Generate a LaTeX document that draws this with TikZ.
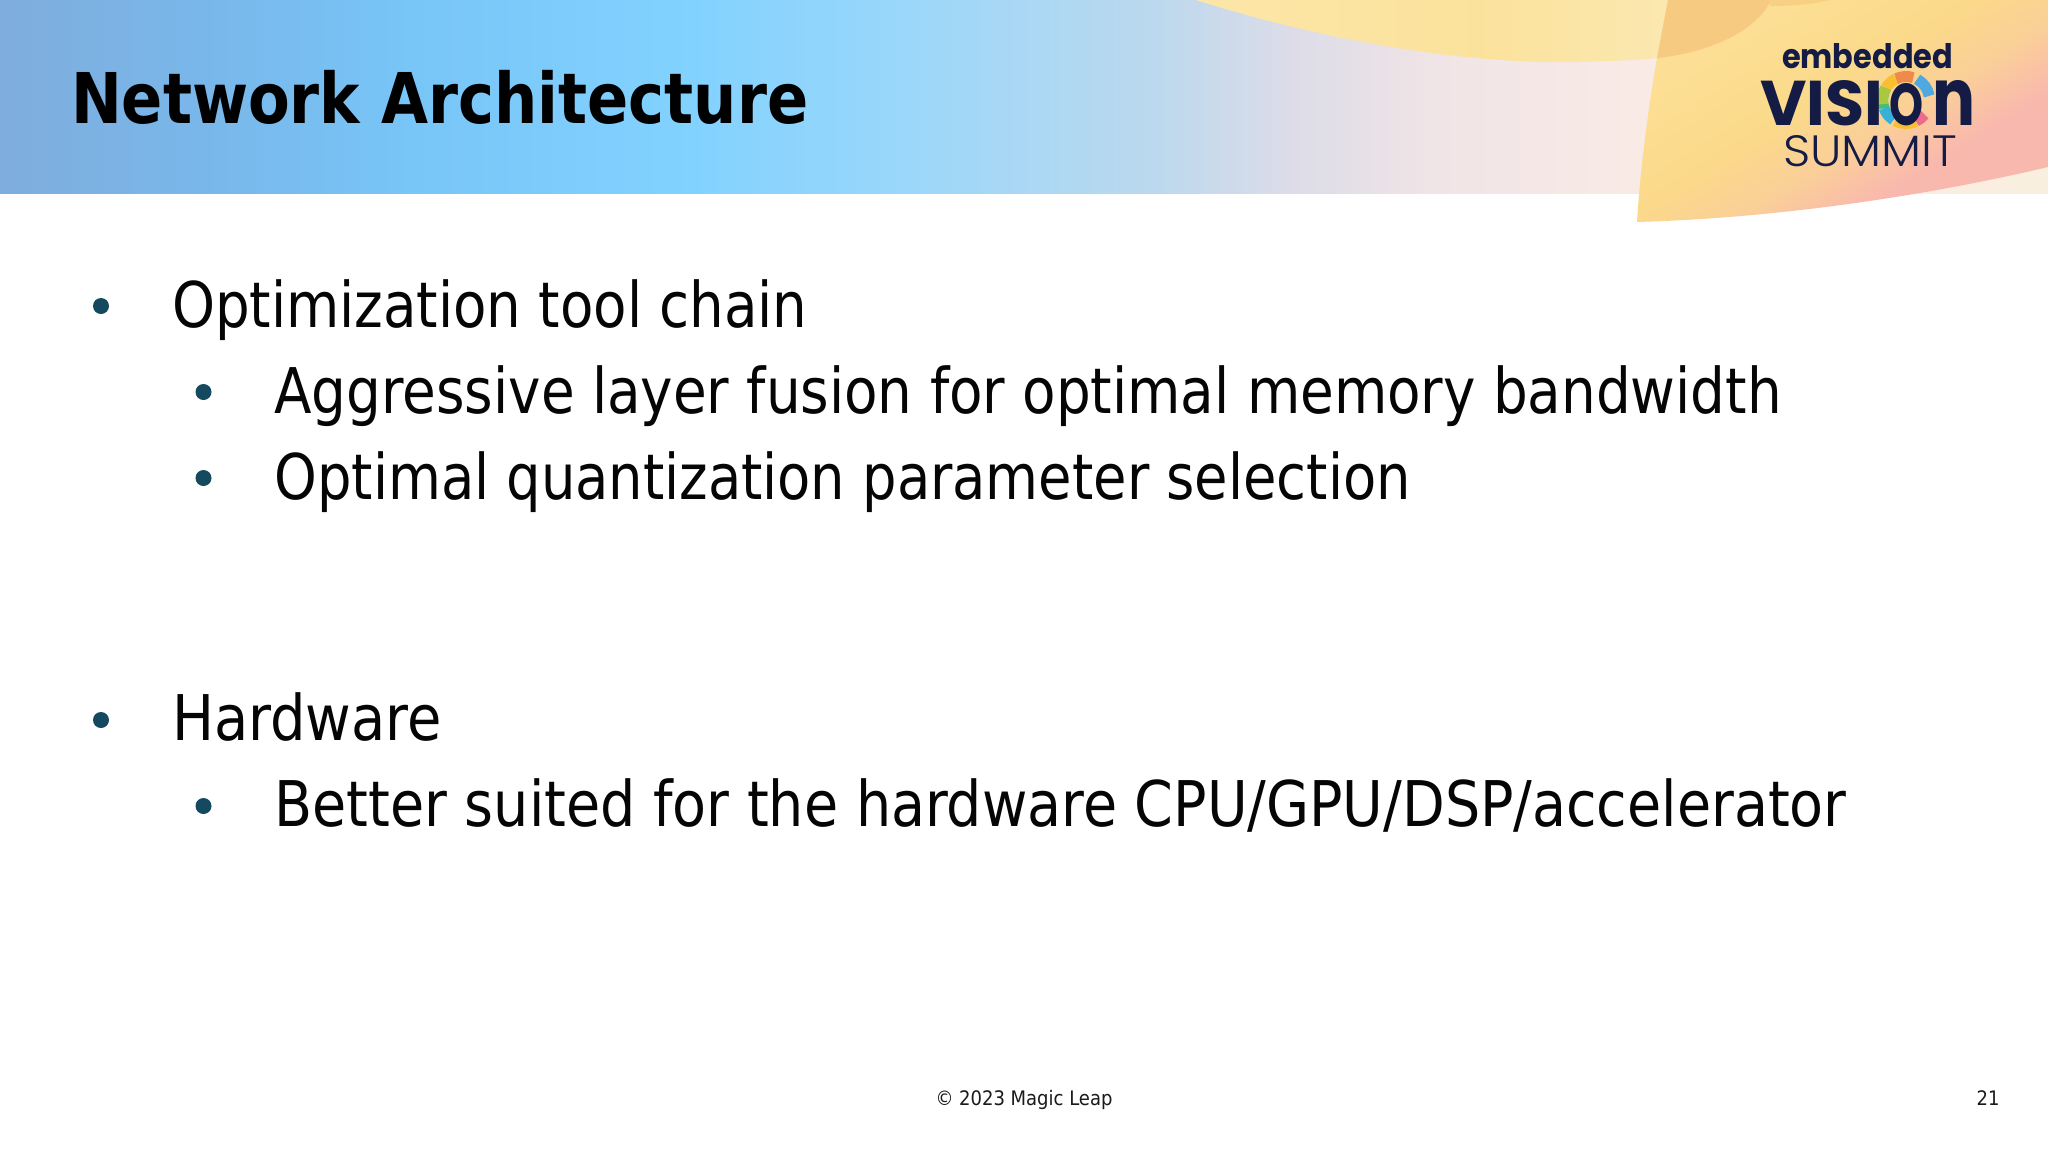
\documentclass[tikz,border=0pt]{standalone}
\usepackage{fontspec}
\usepackage{graphicx}
\setmainfont{DejaVu Sans Condensed}
\newfontfamily\bodyfont[FakeStretch=0.966]{DejaVu Sans Condensed}
\newfontfamily\titlefont[FakeStretch=0.965]{DejaVu Sans Condensed}
\newfontfamily\logofont{Poppins}
\newfontfamily\logolight{Poppins Light}
\definecolor{bodyblack}{HTML}{050505}
\definecolor{bulletteal}{HTML}{15495F}
\definecolor{logonavy}{HTML}{141C45}
\definecolor{footgray}{HTML}{1A1A1A}
\definecolor{ba}{HTML}{7FADDD}
\definecolor{bb}{HTML}{79B7EA}
\definecolor{bc}{HTML}{78C5F7}
\definecolor{bd}{HTML}{82D2FF}
\definecolor{be}{HTML}{9AD7FA}
\definecolor{bf}{HTML}{BAD8EE}
\definecolor{bg}{HTML}{DCDCE8}
\definecolor{bh}{HTML}{F0E4E6}
\definecolor{bi}{HTML}{F9EAE5}
\definecolor{bj}{HTML}{F9EFDF}
\pgfdeclarehorizontalshading{hdrgrad}{100bp}{
 color(0bp)=(ba);
 color(25bp)=(ba);
 color(30bp)=(bb);
 color(35bp)=(bc);
 color(42bp)=(bd);
 color(47bp)=(be);
 color(53bp)=(bf);
 color(56.5bp)=(bg);
 color(60bp)=(bh);
 color(65bp)=(bi);
 color(75bp)=(bj);
 color(100bp)=(bj)}
\definecolor{ya}{HTML}{FCE6A8}
\definecolor{yb}{HTML}{FBE29C}
\definecolor{yc}{HTML}{FBE8B0}
\pgfdeclarehorizontalshading{blobone}{100bp}{
 color(0bp)=(ya);
 color(25bp)=(ya);
 color(55bp)=(yb);
 color(75bp)=(yc);
 color(100bp)=(yc)}
\definecolor{pa}{HTML}{FCDF94}
\definecolor{pb}{HTML}{FBD98A}
\definecolor{pc}{HTML}{FACF98}
\definecolor{pd}{HTML}{F9B8AE}
\definecolor{ovl}{HTML}{F6CA80}
\definecolor{ovm}{HTML}{F8D084}
\pgfdeclarehorizontalshading{blobtwo}{100bp}{
 color(0bp)=(pa);
 color(30bp)=(pa);
 color(46bp)=(pb);
 color(56bp)=(pc);
 color(66bp)=(pd);
 color(100bp)=(pd)}
\definecolor{rred}{HTML}{EE8A4A}
\definecolor{rblue}{HTML}{4FA8E0}
\definecolor{rpink}{HTML}{EE6A8A}
\definecolor{ryel}{HTML}{F8C030}
\definecolor{rgreen}{HTML}{46BE78}
\definecolor{rcyan}{HTML}{38B0D8}
\definecolor{rlime}{HTML}{A8C840}
\tikzset{
  every node/.style={inner sep=0pt,outer sep=0pt},
  bodytext/.style={anchor=base west,text=bodyblack,font=\bodyfont\fontsize{31.5}{36}\selectfont},
  bulletmark/.style={circle,fill=bulletteal,minimum size=8pt},
  foot/.style={anchor=base,text=footgray,font=\fontsize{10}{12}\selectfont},
  ringseg/.style={line width=5.5pt}
}
\begin{document}
\begin{tikzpicture}[x=0.5pt,y=-0.5pt]
\useasboundingbox (0,0) rectangle (2048,1152);
\fill[white] (0,0) rectangle (2048,1152);
\shade[shading=hdrgrad] (0,0) rectangle (2048,193);
% yellow arc
\shade[shading=blobone] (1196,0) .. controls (1290,30) and (1440,65) .. (1580,62)
  .. controls (1610,61) and (1640,60) .. (1657,58) -- (1668,0) -- cycle;
% big peach shape
\shade[shading=blobtwo,shading angle=-58] (1668,0) -- (1657,58)
  .. controls (1648,110) and (1640,170) .. (1637,222)
  .. controls (1780,218) and (1930,195) .. (2048,167) -- (2048,0) -- cycle;
% overlap
\fill[ovl] (1668,0) -- (1657,58) .. controls (1700,54) and (1755,35) .. (1771,0) -- cycle;
\fill[ovm] (1771,0) -- (1770,6) .. controls (1795,6) and (1815,4) .. (1830,0) -- cycle;
% title
\node[anchor=base west,font=\titlefont\bfseries\fontsize{35}{40}\selectfont,text=black] (title) at (71,123) {Network Architecture};
% body
\node[bulletmark] (b1) at (101,306) {};
\node[bodytext] (t1) at (172,327.5) {\scalebox{.998}[1]{Optimization tool chain}};
\node[bulletmark] (b2) at (203.5,392) {};
\node[bodytext] (t2) at (274.5,413.5) {Aggressive layer fusion for optimal memory bandwidth};
\node[bulletmark] (b3) at (203.5,478) {};
\node[bodytext] (t3) at (274.5,499.5) {\scalebox{.992}[1]{Optimal quantization parameter selection}};
\node[bulletmark] (b4) at (101,720) {};
\node[bodytext] (t4) at (172,740.5) {\scalebox{1.02}[1]{Hardware}};
\node[bulletmark] (b5) at (203.5,806) {};
\node[bodytext] (t5) at (274.5,826.5) {\scalebox{1.014}[1]{Better suited for the hardware CPU/GPU/DSP/accelerator}};
% footer
\node[foot] (f1) at (1024,1105) {© 2023 Magic Leap};
\node[foot] (f2) at (1988,1105) {21};
% logo
\node[anchor=base west,text=logonavy] (lg1) at (1782,68) {\resizebox{85.5pt}{12.5pt}{\logofont\bfseries embedded}};
\foreach \a/\b/\c in {150/115/ryel,115/72/rred,62/10/rblue,-38/-65/rpink,-65/-118/ryel,-122/-160/rcyan,-160/-210/rgreen,150/190/rlime}{
  \draw[ringseg,color=\c] ({1906+23.5*cos(\a)},{100-23.5*sin(\a)}) arc[start angle=-\a,end angle=-\b,radius=23.5];
}
\node[anchor=base west,text=logonavy] (lg2) at (1760,125) {\logofont\bfseries\resizebox{61.5pt}{22.5pt}{VISI}\hspace{3pt}\resizebox{17pt}{21pt}{O}\hspace{4.5pt}\resizebox{21.5pt}{22.5pt}{n}};
\node[anchor=base west,text=logonavy] (lg3) at (1783,166) {\resizebox{87pt}{15.5pt}{\logolight SUMMIT}};
\end{tikzpicture}
\end{document}
